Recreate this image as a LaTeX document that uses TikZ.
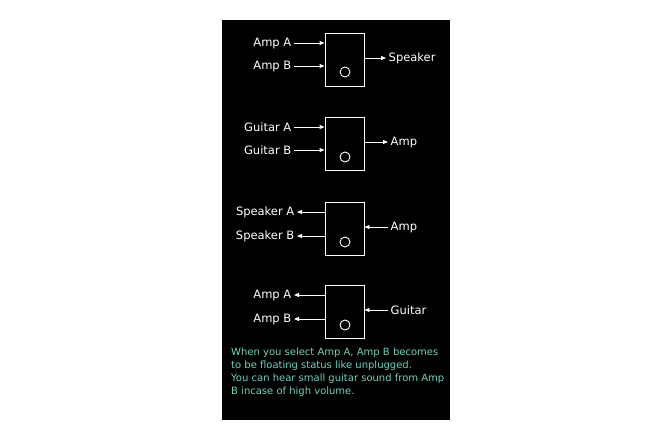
\documentclass[tikz,border=0pt]{standalone}
\usepackage{fontspec}
\setmainfont{DejaVu Sans}
\usetikzlibrary{arrows.meta}
\definecolor{notec}{HTML}{70D0BC}
\begin{document}
\begin{tikzpicture}[x=1pt,y=-1pt,
  sw/.style={draw=white,line width=0.9pt},
  ar/.style={white,line width=0.9pt,-{Triangle[length=5pt,width=4pt]}},
  lab/.style={text=white,font=\fontsize{11.5}{13}\selectfont,inner sep=2.5pt},
  note/.style={text=notec,font=\fontsize{10}{13}\selectfont,align=left,anchor=north west,inner sep=0pt}]
\useasboundingbox[fill=white] (0,0) rectangle (672,440);
\fill[black] (222,20) rectangle (450,420);
% box 1
\node[sw,minimum width=39pt,minimum height=53pt,inner sep=0] (b1) at (344.5,59.5) {};
\node[sw,circle,minimum size=10pt,inner sep=0] (c1) at (345,72) {};
\node[lab,anchor=east] (a1) at (294,43) {Amp A};
\node[lab,anchor=east] (a2) at (294,66) {Amp B};
\node[lab,anchor=west] (a3) at (386,58) {Speaker};
\draw[ar] (a1.east) -- (a1.east -| b1.west);
\draw[ar] (a2.east) -- (a2.east -| b1.west);
\draw[ar] (a3.west -| b1.east) -- (a3.west);
% box 2
\node[sw,minimum width=39pt,minimum height=53pt,inner sep=0] (b2) at (344.5,143.5) {};
\node[sw,circle,minimum size=10pt,inner sep=0] (c2) at (345,157) {};
\node[lab,anchor=east] (g1) at (294,127) {Guitar A};
\node[lab,anchor=east] (g2) at (294,150) {Guitar B};
\node[lab,anchor=west] (g3) at (388,142) {Amp};
\draw[ar] (g1.east) -- (g1.east -| b2.west);
\draw[ar] (g2.east) -- (g2.east -| b2.west);
\draw[ar] (g3.west -| b2.east) -- (g3.west);
% box 3
\node[sw,minimum width=39pt,minimum height=53pt,inner sep=0] (b3) at (344.5,228.5) {};
\node[sw,circle,minimum size=10pt,inner sep=0] (c3) at (345,242) {};
\node[lab,anchor=east] (s1) at (297,212) {Speaker A};
\node[lab,anchor=east] (s2) at (297,236) {Speaker B};
\node[lab,anchor=west] (s3) at (388,227) {Amp};
\draw[ar] (s1.east -| b3.west) -- (s1.east);
\draw[ar] (s2.east -| b3.west) -- (s2.east);
\draw[ar] (s3.west) -- (s3.west -| b3.east);
% box 4
\node[sw,minimum width=39pt,minimum height=53pt,inner sep=0] (b4) at (344.5,312) {};
\node[sw,circle,minimum size=10pt,inner sep=0] (c4) at (345,325) {};
\node[lab,anchor=east] (d1) at (294,295) {Amp A};
\node[lab,anchor=east] (d2) at (294,319) {Amp B};
\node[lab,anchor=west] (d3) at (388,310) {Guitar};
\draw[ar] (d1.east -| b4.west) -- (d1.east);
\draw[ar] (d2.east -| b4.west) -- (d2.east);
\draw[ar] (d3.west) -- (d3.west -| b4.east);
\node[note] (t) at (231,348) {When you select Amp A, Amp B becomes\\to be floating status like unplugged.\\You can hear small guitar sound from Amp\\B incase of high volume.};
\end{tikzpicture}
\end{document}
